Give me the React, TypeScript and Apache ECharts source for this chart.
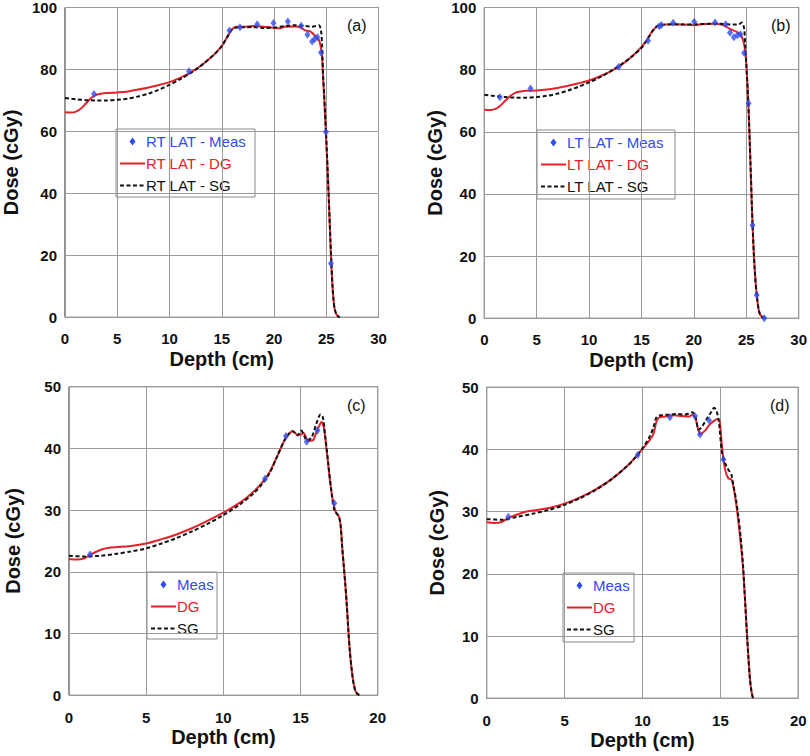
import React, { useEffect, useRef } from "react";
import * as echarts from "echarts";

// ---------- Data ----------
// Panel (a) RT LAT
const aMeasX = [2.78, 11.87, 15.74, 16.74, 18.4, 19.95, 21.33, 22.6, 23.2, 23.65, 23.9, 24.15, 24.5, 24.97, 25.45];
const aMeasY = [72.1, 79.4, 92.6, 93.6, 94.6, 95.0, 95.5, 94.1, 91.2, 89.0, 89.8, 90.4, 85.5, 59.8, 17.4];
const aDgX = [0, 0.5, 1.0, 1.5, 2.0, 2.5, 3.0, 3.5, 4, 5, 6, 7, 8, 9, 10, 11, 12, 13, 14, 14.5, 15, 15.5, 16, 16.4, 17, 18, 19, 20, 20.5, 21, 22, 22.5, 23, 23.5, 24, 24.3, 24.5, 24.6, 24.7, 24.8, 24.9, 25.0, 25.2, 25.4, 25.5, 25.6, 25.7, 25.8, 26.0, 26.2];
const aDgY = [66.2, 66.1, 66.3, 67.3, 69.0, 70.8, 71.8, 72.2, 72.4, 72.6, 72.9, 73.5, 74.2, 75.0, 75.9, 77.3, 79.0, 81.2, 84.0, 85.6, 87.6, 90.3, 93.0, 93.8, 93.8, 94.0, 93.8, 93.4, 93.3, 93.8, 93.9, 93.6, 92.6, 92.2, 90.6, 89.5, 87.0, 84.0, 77.0, 71.0, 64.0, 57.0, 42.0, 24.0, 16.0, 10.0, 5.5, 2.8, 0.8, 0];
const aSgX = [0, 1, 2, 3, 4, 5, 6, 7, 8, 9, 10, 11, 12, 13, 14, 14.5, 15, 15.5, 16, 16.3, 17, 18, 19, 20, 21, 22, 23, 23.6, 24.0, 24.3, 24.5, 24.6, 24.7, 24.8, 25.0, 25.2, 25.4, 25.5, 25.6, 25.7, 25.8, 26.0, 26.3];
const aSgY = [70.8, 70.4, 70.1, 70.0, 70.0, 70.2, 70.6, 71.3, 72.2, 73.5, 75.0, 76.8, 78.8, 81.2, 84.0, 85.6, 87.5, 90.3, 93.0, 93.5, 93.6, 93.7, 93.4, 93.5, 94.0, 94.3, 94.0, 93.8, 94.0, 94.3, 92.5, 88.0, 78.0, 72.0, 58.0, 42.0, 25.0, 17.0, 10.0, 5.5, 2.8, 0.8, 0];

// Panel (b) LT LAT
const bMeasX = [1.48, 4.41, 12.83, 15.63, 16.7, 16.9, 18.02, 20.03, 22.02, 23.03, 23.45, 23.82, 24.15, 24.45, 24.8, 25.22, 25.6, 26.0, 26.72];
const bMeasY = [71.1, 73.9, 80.9, 89.3, 94.0, 94.4, 95.1, 95.4, 95.2, 94.6, 91.9, 90.4, 91.1, 91.4, 85.4, 69.2, 29.9, 7.5, 0];
const bDgX = [0, 0.5, 1.0, 1.5, 2.0, 2.5, 3.0, 3.5, 4, 5, 6, 7, 8, 9, 10, 11, 12, 13, 14, 15, 15.5, 16, 16.5, 17, 18, 19, 20, 21, 22, 22.5, 23, 23.5, 24, 24.4, 24.7, 24.9, 25.0, 25.2, 25.4, 25.6, 25.8, 26.0, 26.2, 26.4, 26.7];
const bDgY = [67.1, 67.0, 67.3, 68.3, 70.0, 71.6, 72.6, 73.0, 73.2, 73.3, 73.6, 74.1, 74.8, 75.6, 76.5, 77.8, 79.4, 81.4, 84.0, 87.3, 89.5, 92.2, 94.0, 94.5, 94.6, 94.5, 94.3, 94.7, 94.8, 94.6, 94.0, 93.0, 92.3, 91.5, 89.5, 86.0, 82.0, 69.0, 50.0, 30.0, 16.0, 7.5, 2.5, 0.8, 0];
const bSgX = [0, 1, 2, 3, 4, 5, 6, 7, 8, 9, 10, 11, 12, 13, 14, 15, 15.5, 16, 16.5, 17, 18, 19, 20, 21, 22, 23, 23.5, 24, 24.3, 24.6, 24.8, 24.9, 25.0, 25.2, 25.4, 25.6, 25.8, 26.0, 26.2, 26.4, 26.8];
const bSgY = [71.9, 71.5, 71.2, 71.0, 71.0, 71.2, 71.6, 72.3, 73.3, 74.5, 75.9, 77.5, 79.4, 81.5, 84.0, 87.0, 89.4, 92.2, 94.0, 94.4, 94.6, 94.5, 94.6, 94.7, 94.8, 94.7, 94.5, 94.5, 94.6, 95.2, 93.0, 88.0, 82.0, 69.0, 50.0, 30.0, 16.0, 7.5, 2.5, 0.8, 0];

// Panel (c)
const cMeasX = [1.36, 12.7, 14.06, 15.4, 16.1, 17.19];
const cMeasY = [22.8, 35.1, 42.0, 41.1, 42.9, 31.1];
const cDgX = [0, 0.5, 1.0, 1.4, 1.8, 2.2, 2.6, 3, 4, 5, 6, 7, 8, 9, 10, 11, 11.5, 12, 12.5, 13, 13.5, 14, 14.3, 14.5, 14.8, 15.0, 15.2, 15.5, 15.8, 16.0, 16.2, 16.35, 16.5, 16.7, 16.9, 17.1, 17.3, 17.5, 17.6, 17.7, 17.8, 17.9, 18.0, 18.1, 18.2, 18.3, 18.4, 18.5, 18.6, 18.8];
const cDgY = [22.1, 22.0, 22.2, 22.8, 23.3, 23.7, 23.9, 24.0, 24.2, 24.6, 25.3, 26.1, 27.1, 28.3, 29.6, 31.1, 32.0, 33.1, 34.4, 36.2, 38.8, 41.5, 42.5, 42.8, 42.2, 42.2, 42.5, 41.2, 41.3, 42.4, 43.6, 44.3, 43.5, 39.5, 35.0, 31.5, 29.6, 28.9, 27.5, 24.0, 21.0, 18.0, 14.5, 10.5, 7.0, 4.5, 2.5, 1.2, 0.5, 0];
const cSgX = [0, 1, 2, 3, 4, 5, 6, 7, 8, 9, 10, 11, 12, 12.5, 13, 13.5, 14, 14.3, 14.5, 14.8, 15.05, 15.2, 15.4, 15.7, 16.0, 16.2, 16.3, 16.45, 16.6, 16.8, 17.0, 17.2, 17.4, 17.5, 17.6, 17.7, 17.8, 17.9, 18.0, 18.1, 18.2, 18.3, 18.4, 18.5, 18.6, 18.8];
const cSgY = [22.6, 22.5, 22.6, 22.9, 23.3, 23.8, 24.6, 25.5, 26.6, 27.8, 29.2, 30.8, 32.8, 34.2, 36.0, 38.8, 41.5, 42.5, 42.8, 42.1, 42.9, 42.3, 41.3, 41.7, 43.8, 45.2, 45.5, 45.0, 42.0, 37.5, 33.0, 29.9, 29.3, 28.8, 27.5, 24.0, 21.0, 18.0, 14.5, 10.5, 7.0, 4.5, 2.5, 1.2, 0.5, 0];

// Panel (d)
const dMeasX = [1.39, 9.69, 11.76, 13.37, 13.69, 14.27, 15.19];
const dMeasY = [29.2, 39.1, 45.2, 45.4, 42.4, 44.7, 38.4];
const dDgX = [0, 0.5, 0.9, 1.4, 2, 2.5, 3, 4, 5, 6, 7, 8, 9, 9.5, 10, 10.4, 10.7, 10.9, 11.1, 11.5, 12, 12.5, 13, 13.2, 13.4, 13.55, 13.7, 14.0, 14.3, 14.6, 14.8, 14.95, 15.1, 15.3, 15.5, 15.7, 15.85, 16.0, 16.15, 16.3, 16.45, 16.6, 16.7, 16.8, 16.9, 17.0, 17.1];
const dDgY = [28.3, 28.2, 28.3, 29.0, 29.6, 30.0, 30.2, 30.6, 31.3, 32.3, 33.6, 35.2, 37.3, 38.6, 40.1, 41.3, 42.5, 44.5, 45.2, 45.3, 45.5, 45.4, 45.3, 45.6, 45.0, 43.5, 42.5, 43.0, 44.0, 44.6, 44.9, 44.6, 40.5, 36.8, 35.4, 35.2, 33.8, 31.5, 28.5, 25.0, 21.0, 15.0, 10.5, 6.5, 3.0, 1.0, 0];
const dSgX = [0, 1, 2, 3, 4, 5, 6, 7, 8, 9, 9.5, 10, 10.4, 10.7, 10.9, 11.2, 11.7, 12.2, 12.7, 13.0, 13.2, 13.4, 13.6, 13.8, 14.1, 14.4, 14.6, 14.75, 14.9, 15.1, 15.3, 15.5, 15.7, 15.85, 16.0, 16.15, 16.3, 16.45, 16.6, 16.7, 16.8, 16.9, 17.0, 17.1];
const dSgY = [28.8, 28.7, 29.2, 29.7, 30.3, 31.1, 32.2, 33.5, 35.2, 37.3, 38.6, 40.2, 41.8, 43.5, 45.2, 45.5, 45.6, 45.7, 45.6, 45.8, 46.0, 45.2, 43.2, 43.6, 44.8, 46.0, 46.7, 46.2, 44.5, 39.5, 37.8, 36.8, 36.0, 34.0, 32.0, 29.3, 26.0, 21.5, 15.0, 10.5, 6.5, 3.0, 1.0, 0];

const panelLabels = ["(a)", "(b)", "(c)", "(d)"];
const seriesNames = [
  ["RT LAT - Meas", "RT LAT - DG", "RT LAT - SG"],
  ["LT LAT - Meas", "LT LAT - DG", "LT LAT - SG"],
  ["Meas", "DG", "SG"],
  ["Meas", "DG", "SG"],
];
const xMaxes = [30, 30, 20, 20];
const yMaxes = [100, 100, 50, 50];
const yIntervals = [20, 20, 10, 10];
const xTitle = "Depth (cm)";
const yTitle = "Dose (cGy)";

// ---------- Style ----------
const FONT = "'Liberation Sans', Arial, Helvetica, sans-serif";
const BLUE = "#2f4cec";
const RED = "#e52229";
const BLACK = "#111111";
const DASH = [4, 2.5];

const zip = (xs: number[], ys: number[]) => xs.map((x, i) => [x, ys[i]]);

const panels = [
  { meas: zip(aMeasX, aMeasY), dg: zip(aDgX, aDgY), sg: zip(aSgX, aSgY) },
  { meas: zip(bMeasX, bMeasY), dg: zip(bDgX, bDgY), sg: zip(bSgX, bSgY) },
  { meas: zip(cMeasX, cMeasY), dg: zip(cDgX, cDgY), sg: zip(cSgX, cSgY) },
  { meas: zip(dMeasX, dMeasY), dg: zip(dDgX, dDgY), sg: zip(dSgX, dSgY) },
];

const layout = [
  { left: 64.5, top: 6.7, width: 314, height: 310.6, xLabelMargin: 14, yNameGap: 44, lg: [116, 129, 139, 68], labelX: 347, labelY: 25 },
  { left: 484.3, top: 6.7, width: 317.4, height: 311.6, xLabelMargin: 14, yNameGap: 39, lg: [537, 130, 138, 69], labelX: 771, labelY: 25 },
  { left: 69, top: 386.7, width: 308.7, height: 308.6, xLabelMargin: 15, yNameGap: 46, lg: [147, 572, 70, 67], labelX: 347, labelY: 405 },
  { left: 486.7, top: 387.3, width: 311.6, height: 311, xLabelMargin: 15, yNameGap: 40, lg: [563, 573, 71, 69], labelX: 770, labelY: 405 },
];

function legendGraphic(i: number) {
  const [x, y, w, h] = layout[i].lg;
  const names = seriesNames[i];
  const rows = [12.5, 34.5, 56.5];
  const colors = [BLUE, RED, BLACK];
  const children: any[] = [
    {
      type: "rect",
      shape: { x: 0, y: 0, width: w, height: h },
      style: { fill: "#fff", stroke: "#8a8a8a", lineWidth: 1 },
    },
    {
      type: "polygon",
      shape: { points: [[16.5, rows[0] - 4], [19.5, rows[0]], [16.5, rows[0] + 4], [13.5, rows[0]]] },
      style: { fill: BLUE },
    },
    {
      type: "line",
      shape: { x1: 4, y1: rows[1], x2: 29, y2: rows[1] },
      style: { stroke: RED, lineWidth: 2 },
    },
    {
      type: "line",
      shape: { x1: 4, y1: rows[2], x2: 29, y2: rows[2] },
      style: { stroke: BLACK, lineWidth: 2, lineDash: DASH },
    },
  ];
  names.forEach((n, k) => {
    children.push({
      type: "text",
      x: 30,
      y: rows[k],
      style: { text: n, fontFamily: FONT, fontSize: 15, fill: colors[k], align: "left", verticalAlign: "middle" },
    });
  });
  return { type: "group", x, y, z: 20, children };
}

function buildOption() {
  const grid: any[] = [];
  const xAxis: any[] = [];
  const yAxis: any[] = [];
  const series: any[] = [];
  const graphic: any[] = [];

  panels.forEach((p, i) => {
    const L = layout[i];
    grid.push({
      left: L.left,
      top: L.top,
      width: L.width,
      height: L.height,
      show: true,
      borderColor: "#222",
      borderWidth: 1,
      backgroundColor: "#fff",
      containLabel: false,
    });
    xAxis.push({
      type: "value",
      gridIndex: i,
      min: 0,
      max: xMaxes[i],
      interval: 5,
      name: xTitle,
      nameLocation: "middle",
      nameGap: 32,
      nameTextStyle: { fontFamily: FONT, fontSize: 20, fontWeight: "bold", color: "#111" },
      axisLine: { show: false },
      axisTick: { show: false },
      axisLabel: { fontFamily: FONT, fontSize: 15, fontWeight: "bold", color: "#111", margin: L.xLabelMargin },
      splitLine: { show: true, lineStyle: { color: "#9a9a9a", width: 1 } },
    });
    yAxis.push({
      type: "value",
      gridIndex: i,
      min: 0,
      max: yMaxes[i],
      interval: yIntervals[i],
      name: yTitle,
      nameLocation: "middle",
      nameGap: L.yNameGap,
      nameTextStyle: { fontFamily: FONT, fontSize: 20, fontWeight: "bold", color: "#111" },
      axisLine: { show: false },
      axisTick: { show: false },
      axisLabel: { fontFamily: FONT, fontSize: 15, fontWeight: "bold", color: "#111", margin: 8 },
      splitLine: { show: true, lineStyle: { color: "#9a9a9a", width: 1 } },
    });
    const names = seriesNames[i];
    series.push({
      name: names[1],
      type: "line",
      xAxisIndex: i,
      yAxisIndex: i,
      data: p.dg,
      symbol: "none",
      showSymbol: false,
      smooth: 0.3,
      lineStyle: { color: RED, width: 2 },
      itemStyle: { color: RED },
      z: 2,
    });
    series.push({
      name: names[2],
      type: "line",
      xAxisIndex: i,
      yAxisIndex: i,
      data: p.sg,
      symbol: "none",
      showSymbol: false,
      smooth: 0.3,
      lineStyle: { color: BLACK, width: 2, type: DASH },
      itemStyle: { color: BLACK },
      z: 3,
    });
    series.push({
      name: names[0],
      type: "scatter",
      xAxisIndex: i,
      yAxisIndex: i,
      data: p.meas,
      symbol: "diamond",
      symbolSize: [6, 8],
      itemStyle: { color: BLUE },
      z: 4,
    });
    graphic.push(legendGraphic(i));
    graphic.push({
      type: "text",
      x: L.labelX,
      y: L.labelY,
      z: 10,
      style: { text: panelLabels[i], fontFamily: FONT, fontSize: 16, fill: "#111", align: "left", verticalAlign: "middle" },
    });
  });

  return {
    animation: false,
    backgroundColor: "#ffffff",
    grid,
    xAxis,
    yAxis,
    series,
    graphic,
  };
}

export default function App() {
  const ref = useRef<HTMLDivElement>(null);
  useEffect(() => {
    if (!ref.current) return;
    const chart = echarts.init(ref.current, null, { renderer: "svg", width: 810, height: 756 });
    chart.setOption(buildOption() as any);
    return () => {
      chart.dispose();
    };
  }, []);
  return (
    <div
      ref={ref}
      style={{ position: "fixed", left: 0, top: 0, width: 810, height: 756, background: "#fff" }}
    />
  );
}
